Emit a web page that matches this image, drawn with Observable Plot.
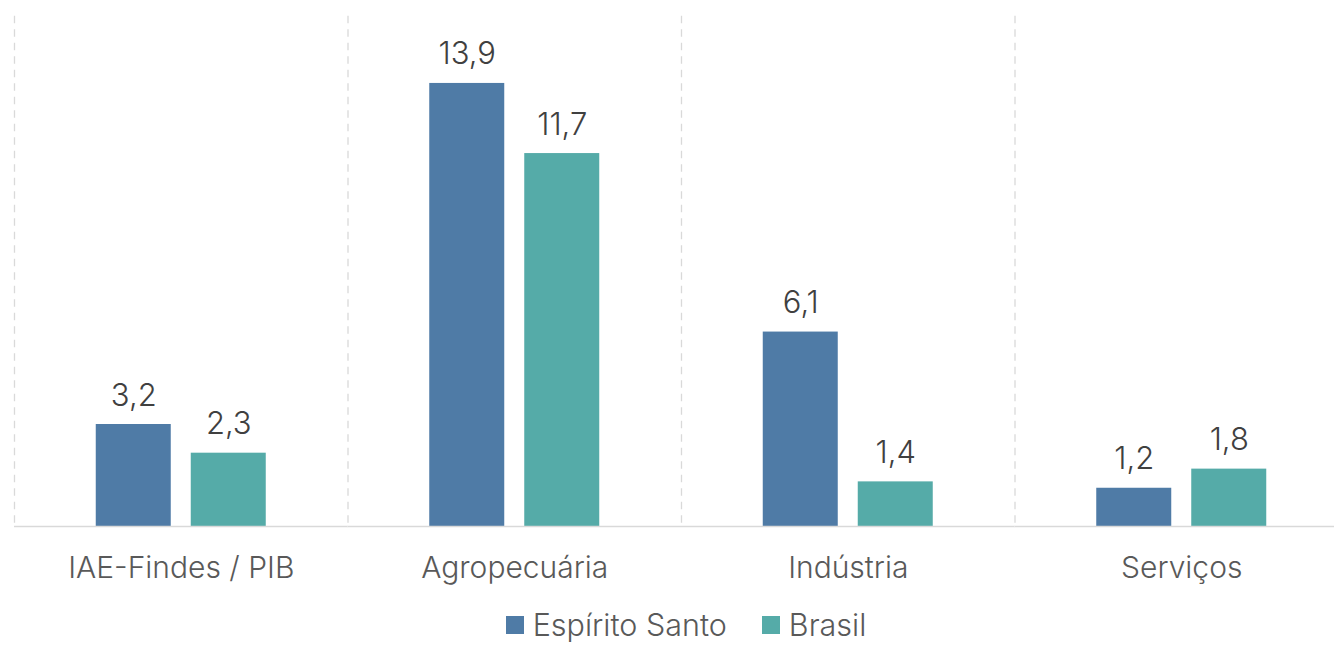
<!DOCTYPE html>
<html>
<head>
<meta charset="utf-8">
<script src="https://cdn.jsdelivr.net/npm/d3@7"></script>
<script src="https://cdn.jsdelivr.net/npm/@observablehq/plot@0.6"></script>
<style>
  html, body { margin: 0; padding: 0; background: #fff; overflow: hidden; }
  body { font-family: Inter, "Noto Sans", sans-serif; width: 1334px; height: 645px; }
  #chart svg { max-width: none !important; display: block; }
  #legend { width: 1372px; display: flex; justify-content: center; align-items: center; gap: 35px; height: 34px; margin-top: 3px; font-size: 30.5px; line-height: 1; font-weight: 300; color: #595959; }
  #legend .item { display: flex; align-items: center; gap: 9px; }
  #legend .sw { width: 18px; height: 18px; display: inline-block; }
</style>
</head>
<body>
<div id="chart"></div>
<div id="legend"></div>
<script>
const categories = ["IAE-Findes / PIB", "Agropecuária", "Indústria", "Serviços"];
const series = ["Espírito Santo", "Brasil"];
const espiritoSanto = [3.2, 13.9, 6.1, 1.2];
const brasil = [2.3, 11.7, 1.4, 1.8];
const colors = ["#4F7BA6", "#55ABA8"];

const data = [];
categories.forEach((c, i) => {
  data.push({category: c, series: series[0], value: espiritoSanto[i]});
  data.push({category: c, series: series[1], value: brasil[i]});
});
const fmt = v => v.toFixed(1).replace(".", ",");

const chart = Plot.plot({
  width: 1362,
  height: 605,
  marginLeft: 14,
  marginRight: 14,
  marginTop: 16,
  marginBottom: 79,
  style: {fontFamily: "Inter, sans-serif", background: "#fff", maxWidth: "none"},
  fx: {domain: categories, padding: 0, round: false, label: null},
  x: {domain: series, paddingInner: 0.2105, paddingOuter: 0.8605, round: false, axis: null},
  y: {domain: [0, 16], axis: null},
  color: {domain: series, range: colors},
  marks: [
    Plot.frame({anchor: "left", stroke: "#d9d9d9", strokeOpacity: 1, strokeDasharray: "6,7.5", strokeWidth: 1.3}),
    Plot.barY(data, {fx: "category", x: "series", y: "value", fill: "series"}),
    Plot.ruleY([0], {stroke: "#d9d9d9", strokeWidth: 1.5}),
    Plot.text(data, {fx: "category", x: "series", y: "value", text: d => fmt(d.value), lineAnchor: "bottom", dy: -19, fontSize: 31, fontWeight: 300, fill: "#404040"}),
    Plot.axisFx({anchor: "bottom", tickSize: 0, tickPadding: 30, fontSize: 30, fontWeight: 300, color: "#595959", label: null})
  ]
});
document.getElementById("chart").appendChild(chart);

const legend = document.getElementById("legend");
series.forEach((s, i) => {
  const item = document.createElement("div");
  item.className = "item";
  const sw = document.createElement("span");
  sw.className = "sw";
  sw.style.background = colors[i];
  const t = document.createElement("span");
  t.textContent = s;
  item.appendChild(sw);
  item.appendChild(t);
  legend.appendChild(item);
});
</script>
</body>
</html>
